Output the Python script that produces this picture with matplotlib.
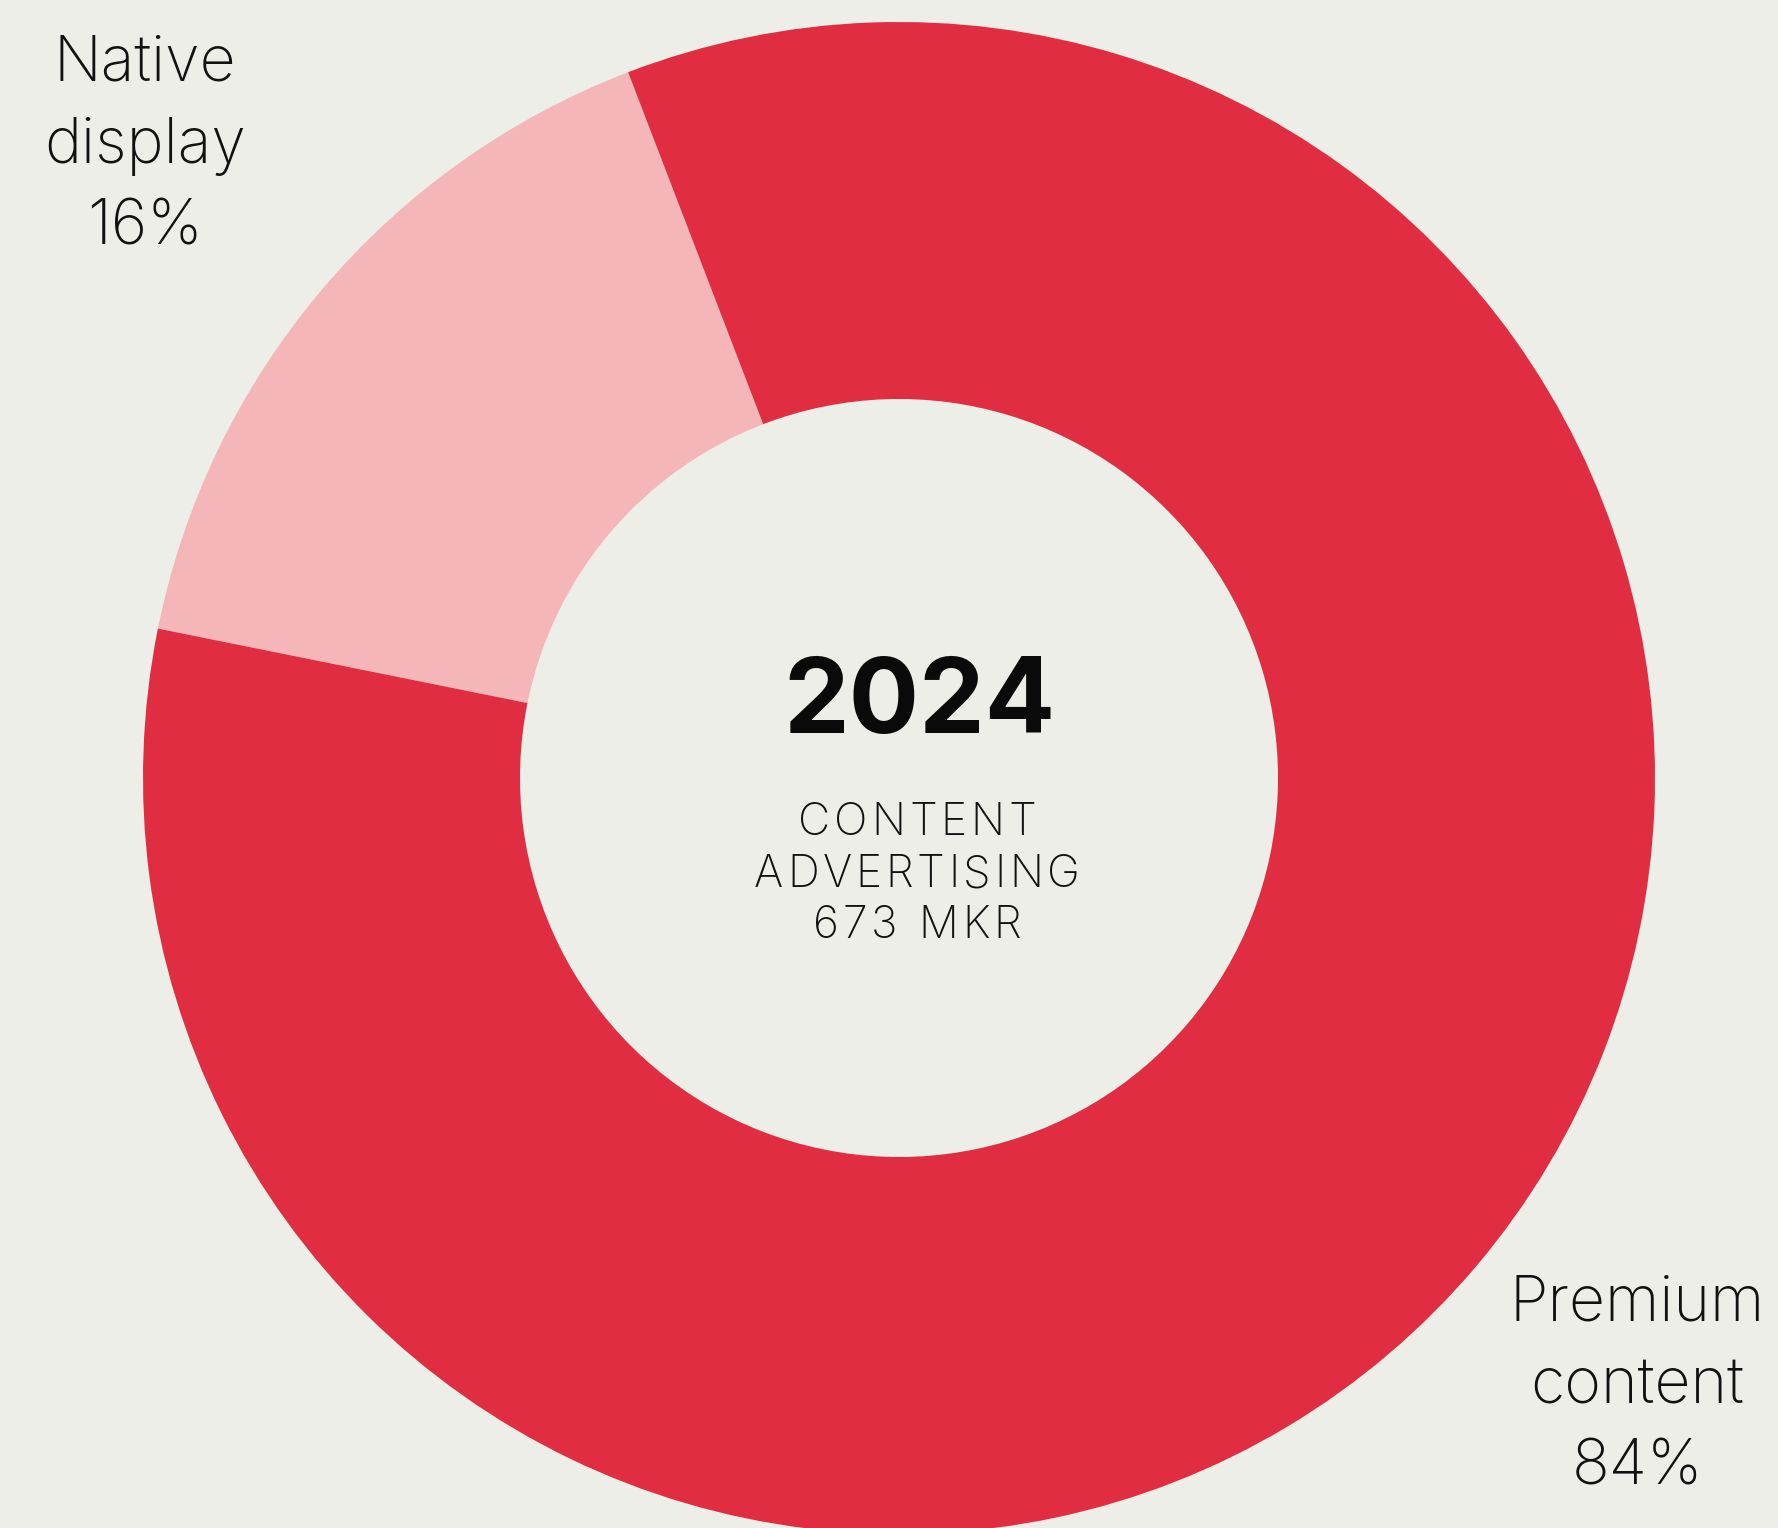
import matplotlib
matplotlib.use("Agg")
import matplotlib.pyplot as plt
from matplotlib.font_manager import FontProperties

categories = ["Native\ndisplay", "Premium\ncontent"]
shares = [16, 84]
colors = ["#F4B6B8", "#E12D42"]
year_label = "2024"
center_lines = ["CONTENT", "ADVERTISING", "673 MKR"]

BG = "#EEEEE8"
W, H = 1778, 1528
fig = plt.figure(figsize=(W / 100, H / 100), dpi=100, facecolor=BG)
ax = fig.add_axes([0, 0, 1, 1])
ax.set_facecolor(BG)

cx, cy = 899, H - 778
R = 756
ax.pie(shares, colors=colors, startangle=111, counterclock=True,
       radius=R, center=(cx, cy), frame=True,
       wedgeprops=dict(width=R - 379, linewidth=0))
ax.set_xlim(0, W)
ax.set_ylim(0, H)
ax.set_aspect("equal")
ax.axis("off")

font = "Inter"
labels_pos = [(145, H - 146), (1637, H - 1386)]
for (x, y), cat, s in zip(labels_pos, categories, shares):
    ax.text(x, y, f"{cat}\n{s}%", ha="center", va="center", fontsize=45,
            family=font, weight="light", linespacing=1.5, color="#111111")

ax.text(919, H - 705, year_label, ha="center", va="center", fontsize=75,
        family=font, weight="bold", color="#0A0A0A")

# tracked (letter-spaced) center caption
renderer = fig.canvas.get_renderer()
prop = FontProperties(family=font, weight="light", size=32)
tracking = 3.7  # px between letters
baselines = [835, 887, 938]
n_width = renderer.get_text_width_height_descent("n", prop, ismath=False)[0]
for line, b in zip(center_lines, baselines):
    widths = [renderer.get_text_width_height_descent(ch, prop, ismath=False)[0]
              if ch != " " else n_width * 0.55 for ch in line]
    total = sum(widths) + tracking * (len(line) - 1)
    x = 917 - total / 2
    for ch, w in zip(line, widths):
        if ch != " ":
            ax.text(x, H - b, ch, ha="left", va="baseline", fontproperties=prop,
                    color="#111111")
        x += w + tracking

fig.savefig("out.png", dpi=100, facecolor=BG)
